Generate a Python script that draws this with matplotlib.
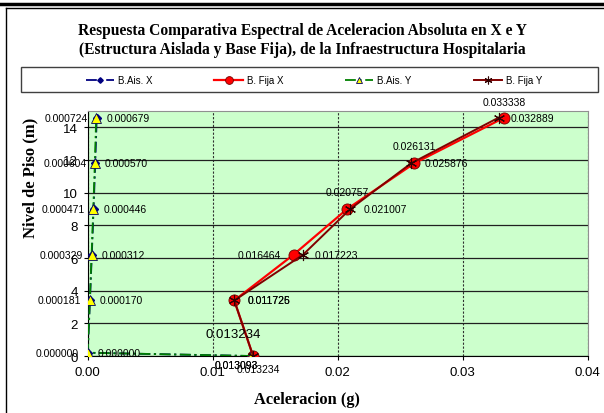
import matplotlib
matplotlib.use("Agg")
import matplotlib.pyplot as plt
from matplotlib.lines import Line2D
from matplotlib.patches import Rectangle
from matplotlib.ticker import FormatStrFormatter

# niveles (m) y aceleraciones (g)
niv_ais = [0, 0.2, 3.4, 6.2, 9.0, 11.8, 14.6]
niv_fija = [0, 3.4, 6.2, 9.0, 11.8, 14.6]
ais_x = [0.013093, 0.000000, 0.000181, 0.000329, 0.000471, 0.000604, 0.000724]
ais_y = [0.013093, 0.000000, 0.000170, 0.000312, 0.000446, 0.000570, 0.000679]
fija_x = [0.013234, 0.011726, 0.016464, 0.020757, 0.026131, 0.033338]
fija_y = [0.013234, 0.011725, 0.017223, 0.021007, 0.025876, 0.032889]
x_ticks = [0.00, 0.01, 0.02, 0.03, 0.04]
y_ticks = [0, 2, 4, 6, 8, 10, 12, 14]
nombres = ["B.Ais. X", "B. Fija X", "B.Ais. Y", "B. Fija Y"]

plt.rcParams['font.family'] = ['Liberation Sans', 'DejaVu Sans']
serif = ['Liberation Serif', 'DejaVu Serif']

W, H = 604, 414
fig = plt.figure(figsize=(W / 100, H / 100), dpi=100)
ax = fig.add_axes([87.7 / W, 1 - 357 / H, 500 / W, 245 / H])
ax.set_facecolor('#ccffcc')

dashdot = (0, (6, 2, 1.2, 2))
l1, = ax.plot(ais_x, niv_ais, color='#000080', lw=1.3, ls=dashdot,
              marker='D', ms=4, mfc='#000080', mec='#000080', zorder=3)
l2, = ax.plot(fija_x, niv_fija, color='#ff0000', lw=1.6,
              marker='o', ms=8, mfc='#ff0000', mec='#700000', mew=0.6, zorder=3)
l3, = ax.plot(ais_y, niv_ais, color='#008000', lw=1.3, ls=dashdot,
              marker='^', ms=7, mfc='#ffff00', mec='#000060', mew=0.6, zorder=3)
l4, = ax.plot(fija_y, niv_fija, color='#800000', lw=1.4,
              marker=(6, 2, 0), ms=8, mec='#300000', mew=0.8, zorder=3)

ax.set_xlim(0, 0.04)
ax.set_ylim(0, 15)
ax.set_xticks(x_ticks)
ax.set_yticks(y_ticks)
ax.xaxis.set_major_formatter(FormatStrFormatter('%.2f'))
ax.tick_params(labelsize=9.5, length=3, direction='out', pad=4)
ax.grid(axis='y', color='#202020', lw=0.9, ls='-')
ax.grid(axis='x', color='#303030', lw=0.8, ls=(0, (2, 1.5)))
ax.set_axisbelow(True)
for s in ['top', 'right']:
    ax.spines[s].set_color('#909090')
for s in ['left', 'bottom']:
    ax.spines[s].set_color('black')


def etiqueta(x, y, dx, dy, ha='center', size=7.5):
    ax.annotate('%.6f' % x, (x, y), xytext=(dx, dy), textcoords='offset pixels',
                ha=ha, va='center', fontsize=size, annotation_clip=False, zorder=5)


# etiquetas de datos
for i, (x, y) in enumerate(zip(ais_x, niv_ais)):
    if i == 0:
        etiqueta(x, y, -15, -9)
    else:
        etiqueta(x, y, -9, 0, 'right')
for i, (x, y) in enumerate(zip(ais_y, niv_ais)):
    if i == 0:
        etiqueta(x, y, -15, -9)
    else:
        etiqueta(x, y, 10, 0, 'left')
off_fx = [(-20, 22, 'center'), (13, 0, 'left'), (-13, 0, 'right'),
          (0, 17, 'center'), (0, 17, 'center'), (0, 16, 'center')]
for i, (x, y) in enumerate(zip(fija_x, niv_fija)):
    dx, dy, ha = off_fx[i]
    etiqueta(x, y, dx, dy, ha, 9.5 if i == 0 else 7.5)
off_fy = [(5, -13, 'center'), (13.5, 0, 'left'), (12, 0, 'left'),
          (13, 0, 'left'), (13, 0, 'left'), (12, 0, 'left')]
for i, (x, y) in enumerate(zip(fija_y, niv_fija)):
    dx, dy, ha = off_fy[i]
    etiqueta(x, y, dx, dy, ha)

fig.text(0.5, 1 - 31 / H, 'Respuesta Comparativa Espectral de Aceleracion Absoluta en X e Y',
         ha='center', va='center', family=serif, weight='bold', fontsize=11.2)
fig.text(0.5, 1 - 50 / H, '(Estructura Aislada y Base Fija), de la Infraestructura Hospitalaria',
         ha='center', va='center', family=serif, weight='bold', fontsize=11.2)
fig.text(307 / W, 1 - 400 / H, 'Aceleracion (g)', ha='center', va='center',
         family=serif, weight='bold', fontsize=11.8)
fig.text(30 / W, 1 - 178 / H, 'Nivel de Piso (m)', ha='center', va='center',
         rotation=90, family=serif, weight='bold', fontsize=12)

# leyenda
fig.add_artist(Rectangle((21 / W, 1 - 93 / H), 577 / W, 25 / H, transform=fig.transFigure,
                         fill=False, edgecolor='#404040', lw=1))
fig.legend([l1, l2, l3, l4], nombres, loc='center', bbox_to_anchor=(314 / W, 1 - 81 / H),
           ncol=4, frameon=False, fontsize=7, handlelength=2.9, handletextpad=0.4,
           columnspacing=6.4, markerscale=0.7)

# marco del grafico
fig.add_artist(Line2D([0, 1], [1 - 5 / H] * 2, lw=2.5, color='black', transform=fig.transFigure))
fig.add_artist(Line2D([6 / W, 1], [1 - 9 / H] * 2, lw=1, color='black', transform=fig.transFigure))
fig.add_artist(Line2D([6 / W] * 2, [0, 1 - 9 / H], lw=1, color='black', transform=fig.transFigure))

fig.savefig('out.png', dpi=100)
